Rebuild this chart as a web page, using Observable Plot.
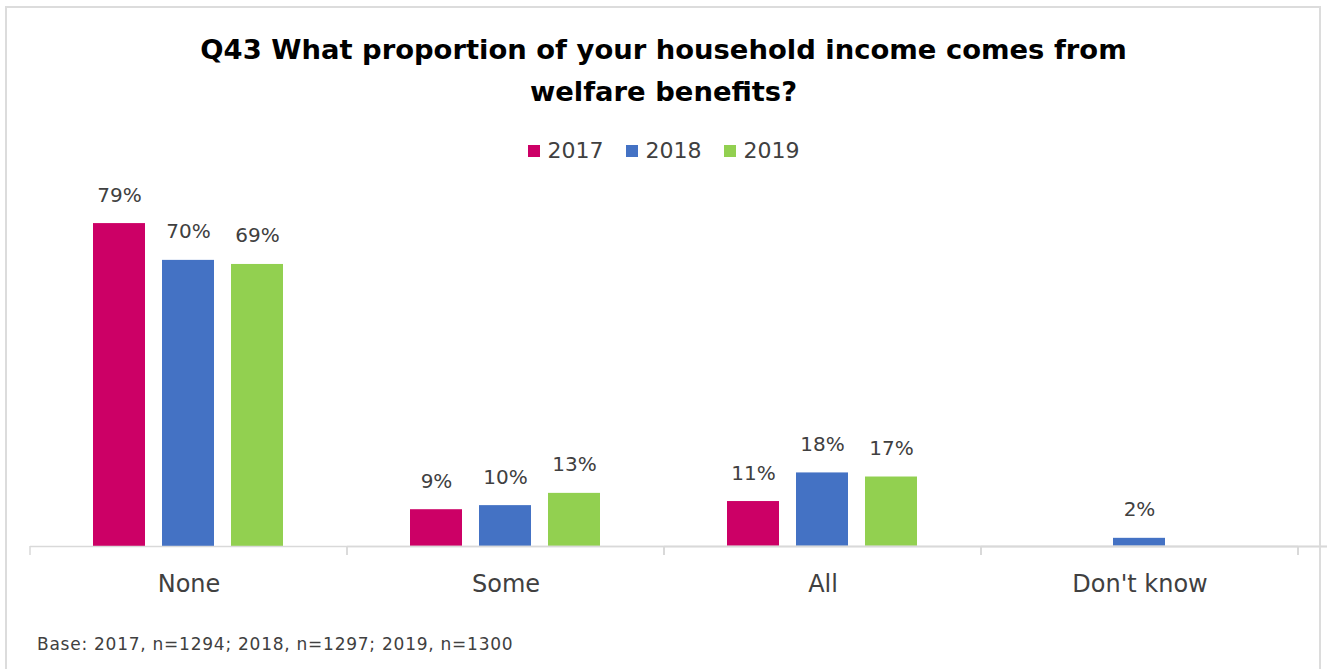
<!DOCTYPE html>
<html>
<head>
<meta charset="utf-8">
<script src="https://cdn.jsdelivr.net/npm/d3@7"></script>
<script src="https://cdn.jsdelivr.net/npm/@observablehq/plot@0.6"></script>
<style>
  html, body { margin: 0; padding: 0; background: #fff; }
  body { width: 1327px; height: 669px; position: relative; overflow: hidden; font-family: "DejaVu Sans", Lato, sans-serif; }
  #frame { position: absolute; left: 5px; top: 6px; width: 1316px; height: 680px; border: 2px solid #dcdcdc; box-sizing: border-box; }
  #title { position: absolute; left: 0; top: 29px; width: 1327px; text-align: center; font-weight: bold; font-size: 27.4px; line-height: 42px; color: #000; }
  #legend { position: absolute; left: 0; top: 137px; width: 1327px; text-align: center; font-size: 22px; color: #404040; line-height: 28px; }
  #legend span.item { display: inline-block; margin: 0 11px; }
  #legend span.sw { display: inline-block; width: 12px; height: 12px; margin-right: 8px; vertical-align: 1px; }
  #chart { position: absolute; left: 0; top: 160px; }
  #caption { position: absolute; left: 37px; top: 634px; font-size: 17px; letter-spacing: 0.75px; color: #404040; }
</style>
</head>
<body>
<div id="frame"></div>
<div id="title">Q43 What proportion of your household income comes from<br>welfare benefits?</div>
<div id="legend"></div>
<div id="chart"></div>
<div id="caption">Base: 2017, n=1294; 2018, n=1297; 2019, n=1300</div>
<script>
const categories = ["None", "Some", "All", "Don't know"];
const years = ["2017", "2018", "2019"];
const values2017 = [79, 9, 11, null];
const values2018 = [70, 10, 18, 2];
const values2019 = [69, 13, 17, null];
const colors = ["#CC0066", "#4472C4", "#92D050"];

const series = [values2017, values2018, values2019];
const data = [];
categories.forEach((c, i) => {
  years.forEach((y, j) => {
    const v = series[j][i];
    if (v != null) data.push({category: c, year: y, value: v});
  });
});

// legend
const legend = document.getElementById("legend");
years.forEach((y, j) => {
  const item = document.createElement("span");
  item.className = "item";
  item.innerHTML = `<span class="sw" style="background:${colors[j]}"></span>${y}`;
  legend.appendChild(item);
});

// boundary ticks + baseline using the library's scales
function boundaryMark(index, scales, values, dimensions) {
  const g = d3.create("svg:g");
  const fx = scales.fx;
  const y0 = scales.y(0);
  const left = fx(categories[0]);
  const right = fx(categories[categories.length - 1]) + fx.bandwidth();
  g.append("line").attr("x1", left).attr("x2", right).attr("y1", y0 + 0.5).attr("y2", y0 + 0.5)
    .attr("stroke", "#d9d9d9").attr("stroke-width", 1.5);
  const edges = categories.map(c => fx(c)).concat([right]);
  edges.forEach(x => {
    g.append("line").attr("x1", x).attr("x2", x).attr("y1", y0).attr("y2", y0 + 9)
      .attr("stroke", "#d9d9d9").attr("stroke-width", 1.5);
  });
  return g.node();
}

const chart = Plot.plot({
  width: 1327,
  height: 440,
  marginLeft: 30,
  marginRight: 29,
  marginTop: 59,
  marginBottom: 54,
  style: {fontFamily: "'DejaVu Sans', Lato, sans-serif", background: "transparent", overflow: "visible"},
  fx: {domain: categories, padding: 0, label: null},
  x: {domain: years, paddingInner: 0.243, paddingOuter: 0.886, axis: null},
  y: {domain: [0, 80], axis: null},
  color: {domain: years, range: colors},
  marks: [
    Plot.barY(data, {fx: "category", x: "year", y: "value", fill: "year"}),
    Plot.text(data, {fx: "category", x: "year", y: "value", text: d => d.value + "%", dy: -22, lineAnchor: "bottom", fontSize: 20, fill: "#404040"}),
    Plot.axisFx({anchor: "bottom", tickSize: 0, tickPadding: 28, fontSize: 24, fill: "#404040", label: null, style: {letterSpacing: "1px"}}),
    boundaryMark
  ]
});
document.getElementById("chart").appendChild(chart);
</script>
</body>
</html>
